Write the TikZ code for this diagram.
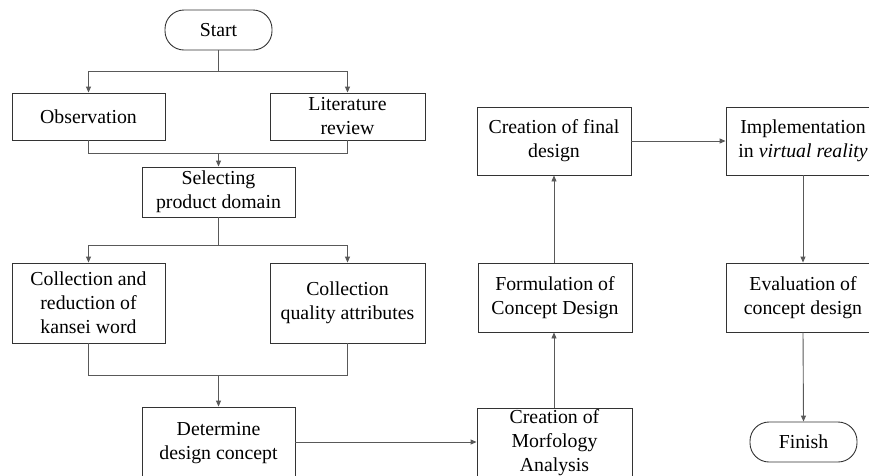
\documentclass[tikz,border=0pt]{standalone}
\usepackage{fontspec}
\setmainfont{Liberation Serif}
\usetikzlibrary{arrows.meta}
\begin{document}
\begin{tikzpicture}[x=1pt,y=-1pt,
  box/.style={draw=black!80, line width=0.9pt, rectangle, align=center, inner sep=0pt,
    font=\fontsize{19.8}{24}\selectfont},
  term/.style={box, rounded corners=19pt},
  conn/.style={draw=black!65, line width=0.9pt},
  arr/.style={conn, -{Triangle[length=6pt,width=5pt]}}]
\useasboundingbox (0,0) rectangle (869,475);
\fill[white] (0,0) rectangle (869,475);
\clip (0,0) rectangle (869,475);

\node[term, minimum width=107pt, minimum height=40pt] (start) at (218.5,30) {Start};
\node[box, minimum width=153pt, minimum height=47pt] (obs) at (88.5,116.5) {Observation};
\node[box, minimum width=155pt, minimum height=47pt] (lit) at (347.5,116.5) {Literature\\review};
\node[box, minimum width=153pt, minimum height=50pt] (sel) at (218.5,192) {Selecting\\product domain};
\node[box, minimum width=153pt, minimum height=80pt] (col1) at (88.5,303) {Collection and\\reduction of\\kansei word};
\node[box, minimum width=155pt, minimum height=80pt] (col2) at (347.5,303) {Collection\\quality attributes};
\node[box, minimum width=153pt, minimum height=73pt] (det) at (218.5,443.5) {Determine\\design concept};
\node[box, minimum width=155pt, minimum height=70pt] (morf) at (554.5,443) {Creation of\\Morfology\\Analysis};
\node[box, minimum width=154pt, minimum height=69pt] (form) at (555,297.5) {Formulation of\\Concept Design};
\node[box, minimum width=154pt, minimum height=68pt] (final) at (554,141) {Creation of final\\design};
\node[box, minimum width=154pt, minimum height=68pt] (impl) at (803,141) {Implementation\\in \textit{virtual reality}};
\node[box, minimum width=154pt, minimum height=69pt] (eval) at (803,297.5) {Evaluation of\\concept design};
\node[term, minimum width=107pt, minimum height=40pt] (fin) at (803.5,442) {Finish};

\coordinate (j1) at (218.5,71);
\coordinate (j2) at (218.5,153);
\coordinate (j3) at (218.5,245);
\coordinate (j4) at (218.5,375);

\draw[conn] (start.south) -- (j1);
\draw[arr] (j1) -| (obs.north);
\draw[arr] (j1) -| (lit.north);
\draw[conn] (obs.south) |- (j2);
\draw[conn] (lit.south) |- (j2);
\draw[arr] (j2) -- (sel.north);
\draw[conn] (sel.south) -- (j3);
\draw[arr] (j3) -| (col1.north);
\draw[arr] (j3) -| (col2.north);
\draw[conn] (col1.south) |- (j4);
\draw[conn] (col2.south) |- (j4);
\draw[arr] (j4) -- (det.north);
\draw[arr] (det.east |- 0,442) -- (morf.west |- 0,442);
\draw[arr] (morf.north -| 554,0) -- (form.south -| 554,0);
\draw[arr] (form.north -| 554,0) -- (final.south);
\draw[arr] (final.east) -- (impl.west);
\draw[arr] (impl.south) -- (eval.north);
\draw[arr] (eval.south) -- (fin.north);
\end{tikzpicture}
\end{document}
